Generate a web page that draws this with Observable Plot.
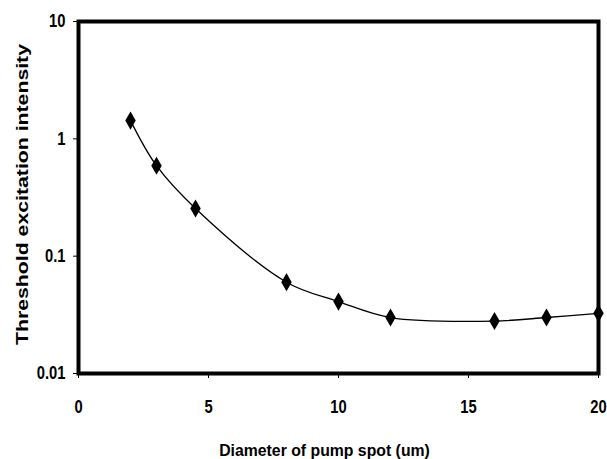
<!DOCTYPE html>
<html>
<head>
<meta charset="utf-8">
<script src="https://cdn.jsdelivr.net/npm/d3@7"></script>
<script src="https://cdn.jsdelivr.net/npm/@observablehq/plot@0.6"></script>
<style>
  html, body { margin: 0; padding: 0; background: #fff; }
  svg { font-family: "Liberation Sans Narrow", "Liberation Sans", Arial, sans-serif; font-weight: bold; }
</style>
</head>
<body>
<div id="chart"></div>
<script>
const diameters = [2, 3, 4.5, 8, 10, 12, 16, 18, 20];
const intensities = [1.43, 0.59, 0.255, 0.06, 0.041, 0.030, 0.028, 0.030, 0.0326];
const xTicks = [0, 5, 10, 15, 20];
const yTicks = [0.01, 0.1, 1, 10];
const yTickLabels = ["0.01", "0.1", "1", "10"];

const data = diameters.map((d, i) => ({x: d, y: intensities[i]}));

const chart = Plot.plot({
  width: 607,
  height: 459,
  marginLeft: 78,
  marginRight: 9,
  marginTop: 21,
  marginBottom: 86,
  style: {fontSize: "14px", fontWeight: "bold", color: "#000", background: "#fff"},
  x: {domain: [0, 20], ticks: xTicks, tickSize: 5, tickPadding: 22,
      label: "Diameter of pump spot (um)", labelAnchor: "center", labelArrow: "none", labelOffset: 82},
  y: {type: "log", domain: [0.01, 10], ticks: yTicks, tickSize: 5, tickPadding: 8,
      tickFormat: (d) => yTickLabels[yTicks.indexOf(d)],
      label: "Threshold excitation intensity", labelAnchor: "center", labelArrow: "none", labelOffset: 63},
  marks: [
    Plot.line(data, {x: "x", y: "y", curve: "catmull-rom", stroke: "#000", strokeWidth: 1.3}),
    Plot.dot(data, {x: "x", y: "y", symbol: "diamond", r: 5.5, fill: "#000", stroke: "none"}),
    Plot.frame({stroke: "#000", strokeWidth: 4})
  ]
});
document.getElementById("chart").appendChild(chart);

// Narrow, tall lettering like the original
const svg = d3.select(chart);
svg.selectAll('g[aria-label="x-axis tick label"] text, g[aria-label="y-axis tick label"] text')
  .style("font-size", "18px")
  .attr("transform", function() { return (this.getAttribute("transform") || "") + " scale(0.82,1)"; });
svg.selectAll('g[aria-label="x-axis label"] text')
  .style("font-size", "17px")
  .attr("transform", function() { return "translate(-14,0) " + (this.getAttribute("transform") || "") + " scale(0.93,1)"; });
svg.selectAll('g[aria-label="y-axis label"] text')
  .style("font-size", "17px")
  .attr("transform", function() { return "translate(0,-3) " + (this.getAttribute("transform") || "") + " scale(1.25,1)"; });
</script>
</body>
</html>
